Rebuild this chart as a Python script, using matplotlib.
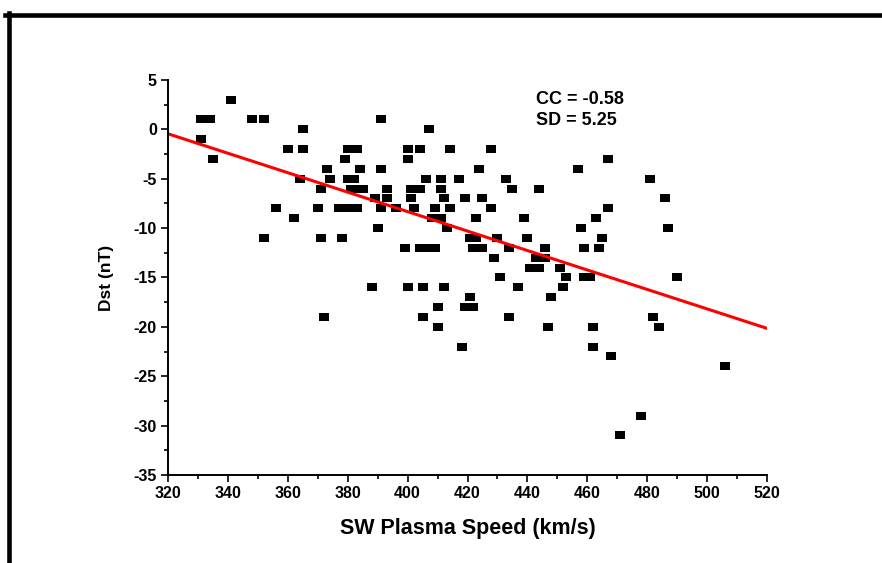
import numpy as np
import matplotlib.pyplot as plt

# Dst vs SW plasma speed
speed = [341,
         331, 334, 348, 352, 391,
         365, 407,
         331,
         360, 365, 380, 383, 400, 404, 414, 428,
         335, 379, 400, 467,
         373, 384, 391, 424, 457,
         364, 374, 380, 382, 406, 411, 417, 433, 481,
         371, 381, 383, 385, 393, 401, 404, 411, 435, 444,
         389, 393, 401, 412, 419, 425, 486,
         356, 370, 377, 380, 383, 391, 396, 402, 409, 414, 428, 467,
         362, 408, 411, 423, 439, 463,
         390, 413, 458, 487,
         352, 371, 378, 421, 423, 430, 440, 465,
         399, 404, 407, 409, 422, 425, 434, 446, 459, 464,
         429, 443, 446,
         441, 444, 451,
         431, 453, 459, 461, 490,
         388, 400, 405, 412, 437, 452,
         421, 448,
         410, 419, 422,
         372, 405, 434, 482,
         410, 447, 462, 484,
         418, 462,
         468,
         506,
         478,
         471]
dst = ([3] + [1] * 5 + [0] * 2 + [-1] + [-2] * 8 + [-3] * 4 + [-4] * 5
       + [-5] * 9 + [-6] * 10 + [-7] * 7 + [-8] * 12 + [-9] * 6 + [-10] * 4
       + [-11] * 8 + [-12] * 10 + [-13] * 3 + [-14] * 3 + [-15] * 5
       + [-16] * 6 + [-17] * 2 + [-18] * 3 + [-19] * 4 + [-20] * 4
       + [-22] * 2 + [-23] + [-24] + [-29] + [-31])

cc_text = "CC = -0.58"
sd_text = "SD = 5.25"

plt.rcParams['font.family'] = ['Liberation Sans', 'DejaVu Sans']
plt.rcParams['font.weight'] = 'bold'
plt.rcParams['axes.unicode_minus'] = False

fig = plt.figure(figsize=(8.82, 5.63), dpi=100)
ax = fig.add_axes([0.1905, 0.1563, 0.6791, 0.7017])

# rectangular marker, a bit wider than tall like in the original
rect = [(-1.0, -0.78), (1.0, -0.78), (1.0, 0.78), (-1.0, 0.78), (-1.0, -0.78)]
ax.plot(speed, dst, linestyle='none', marker=rect, markersize=6.8,
        color='black', markeredgewidth=0)

# linear fit
slope, intercept = np.polyfit(speed, dst, 1)
xfit = np.array([320, 520])
ax.plot(xfit, intercept + slope * xfit, color='red', linewidth=2.2)

ax.text(443, 3, cc_text, fontsize=13, fontweight='bold', va='center')
ax.text(443, 0.9, sd_text, fontsize=13, fontweight='bold', va='center')

ax.set_xlim(320, 520)
ax.set_ylim(-35, 5)
ax.set_xticks(np.arange(320, 521, 20))
ax.set_xticks(np.arange(330, 520, 20), minor=True)
ax.set_yticks(np.arange(-35, 6, 5))
ax.set_yticks(np.arange(-32.5, 5, 5), minor=True)

for s in ['top', 'right']:
    ax.spines[s].set_visible(False)
for s in ['left', 'bottom']:
    ax.spines[s].set_linewidth(1.4)

ax.tick_params(which='major', direction='out', length=5, width=1.2, labelsize=11.5, pad=3)
ax.tick_params(which='minor', direction='out', length=3, width=1.2)
for lab in ax.get_xticklabels() + ax.get_yticklabels():
    lab.set_fontweight('bold')

ax.set_xlabel('SW Plasma Speed (km/s)', fontsize=15.5, fontweight='bold', labelpad=12)
ax.set_ylabel('Dst (nT)', fontsize=12.5, fontweight='bold', labelpad=14)

# thick outer frame (top and left edges only)
fig.add_artist(plt.Line2D([0.0057, 1.0], [0.9734, 0.9734], color='black', linewidth=3.3,
                          transform=fig.transFigure))
fig.add_artist(plt.Line2D([0.0102, 0.0102], [0.0, 0.977], color='black', linewidth=3.3,
                          transform=fig.transFigure))

fig.savefig('out.png', dpi=100)
